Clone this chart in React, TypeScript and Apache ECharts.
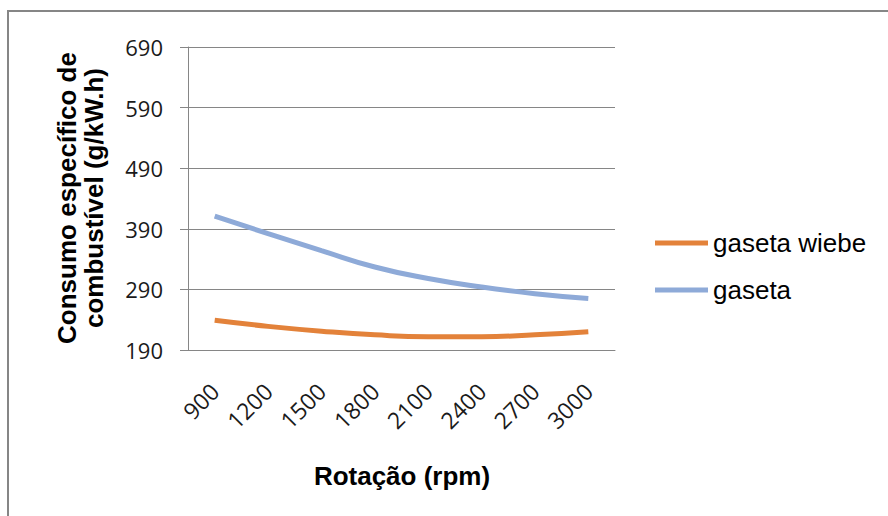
import React, { useEffect, useRef } from "react";
import * as echarts from "echarts";

const categories = ["900", "1200", "1500", "1800", "2100", "2400", "2700", "3000"];
const gasetaWiebe = [239, 229, 221, 215, 212, 212, 215, 220];
const gaseta = [411, 382, 354, 327, 308, 294, 283, 275];
const seriesNames = ["gaseta wiebe", "gaseta"];
const yTitle = "Consumo específico de\ncombustível (g/kW.h)";
const xTitle = "Rotação (rpm)";

export default function App() {
  const ref = useRef<HTMLDivElement>(null);
  useEffect(() => {
    if (!ref.current) return;
    const chart = echarts.init(ref.current, null, { renderer: "svg" });
    const gray = "#868686";
    chart.setOption({
      animation: false,
      backgroundColor: "#ffffff",
      grid: { left: 188, right: 273, top: 47, bottom: 166, containLabel: false },
      legend: {
        orient: "vertical",
        left: 655,
        top: 230,
        padding: 0,
        icon: "rect",
        itemWidth: 53,
        itemHeight: 5,
        itemGap: 21,
        textStyle: {
          fontFamily: "Liberation Sans, Arial, sans-serif",
          fontSize: 26,
          color: "#000",
          lineHeight: 26,
        },
        data: seriesNames,
      },
      xAxis: {
        type: "category",
        data: categories,
        boundaryGap: true,
        axisLine: { show: true, lineStyle: { color: gray, width: 1 } },
        axisTick: { show: false },
        axisLabel: {
          rotate: 45,
          margin: 37,
          interval: 0,
          fontFamily: "Open Sans, sans-serif",
          fontSize: 23,
          color: "#1a1a1a",
        },
        splitLine: { show: false },
      },
      yAxis: {
        type: "value",
        min: 190,
        max: 690,
        interval: 100,
        axisLine: { show: true, lineStyle: { color: gray, width: 1 } },
        axisTick: { show: true, length: 8, lineStyle: { color: gray } },
        axisLabel: {
          margin: 25,
          fontFamily: "Open Sans, sans-serif",
          fontSize: 22,
          color: "#1a1a1a",
        },
        splitLine: { show: true, lineStyle: { color: gray, width: 1 } },
      },
      series: [
        {
          name: seriesNames[0],
          type: "line",
          data: gasetaWiebe,
          smooth: true,
          symbol: "none",
          showSymbol: false,
          lineStyle: { color: "#e3823a", width: 5 },
          itemStyle: { color: "#e3823a" },
        },
        {
          name: seriesNames[1],
          type: "line",
          data: gaseta,
          smooth: true,
          symbol: "none",
          showSymbol: false,
          lineStyle: { color: "#8eaad8", width: 5 },
          itemStyle: { color: "#8eaad8" },
        },
      ],
      graphic: [
        {
          type: "rect",
          silent: true,
          shape: { x: 8, y: 11, width: 900, height: 600 },
          style: { fill: "none", stroke: gray, lineWidth: 2 },
          z: -1,
        },
        {
          type: "text",
          x: 80,
          y: 198,
          rotation: Math.PI / 2,
          style: {
            text: yTitle,
            fontFamily: "Liberation Sans, Arial, sans-serif",
            fontWeight: "bold",
            fontSize: 26,
            lineHeight: 27,
            fill: "#000",
            align: "center",
            verticalAlign: "middle",
          },
        },
        {
          type: "text",
          x: 402,
          y: 476,
          style: {
            text: xTitle,
            fontFamily: "Liberation Sans, Arial, sans-serif",
            fontWeight: "bold",
            fontSize: 26,
            fill: "#000",
            align: "center",
            verticalAlign: "middle",
          },
        },
      ],
    });
    return () => chart.dispose();
  }, []);
  return (
    <div
      ref={ref}
      style={{ position: "fixed", left: 0, top: 0, width: 888, height: 516 }}
    />
  );
}
